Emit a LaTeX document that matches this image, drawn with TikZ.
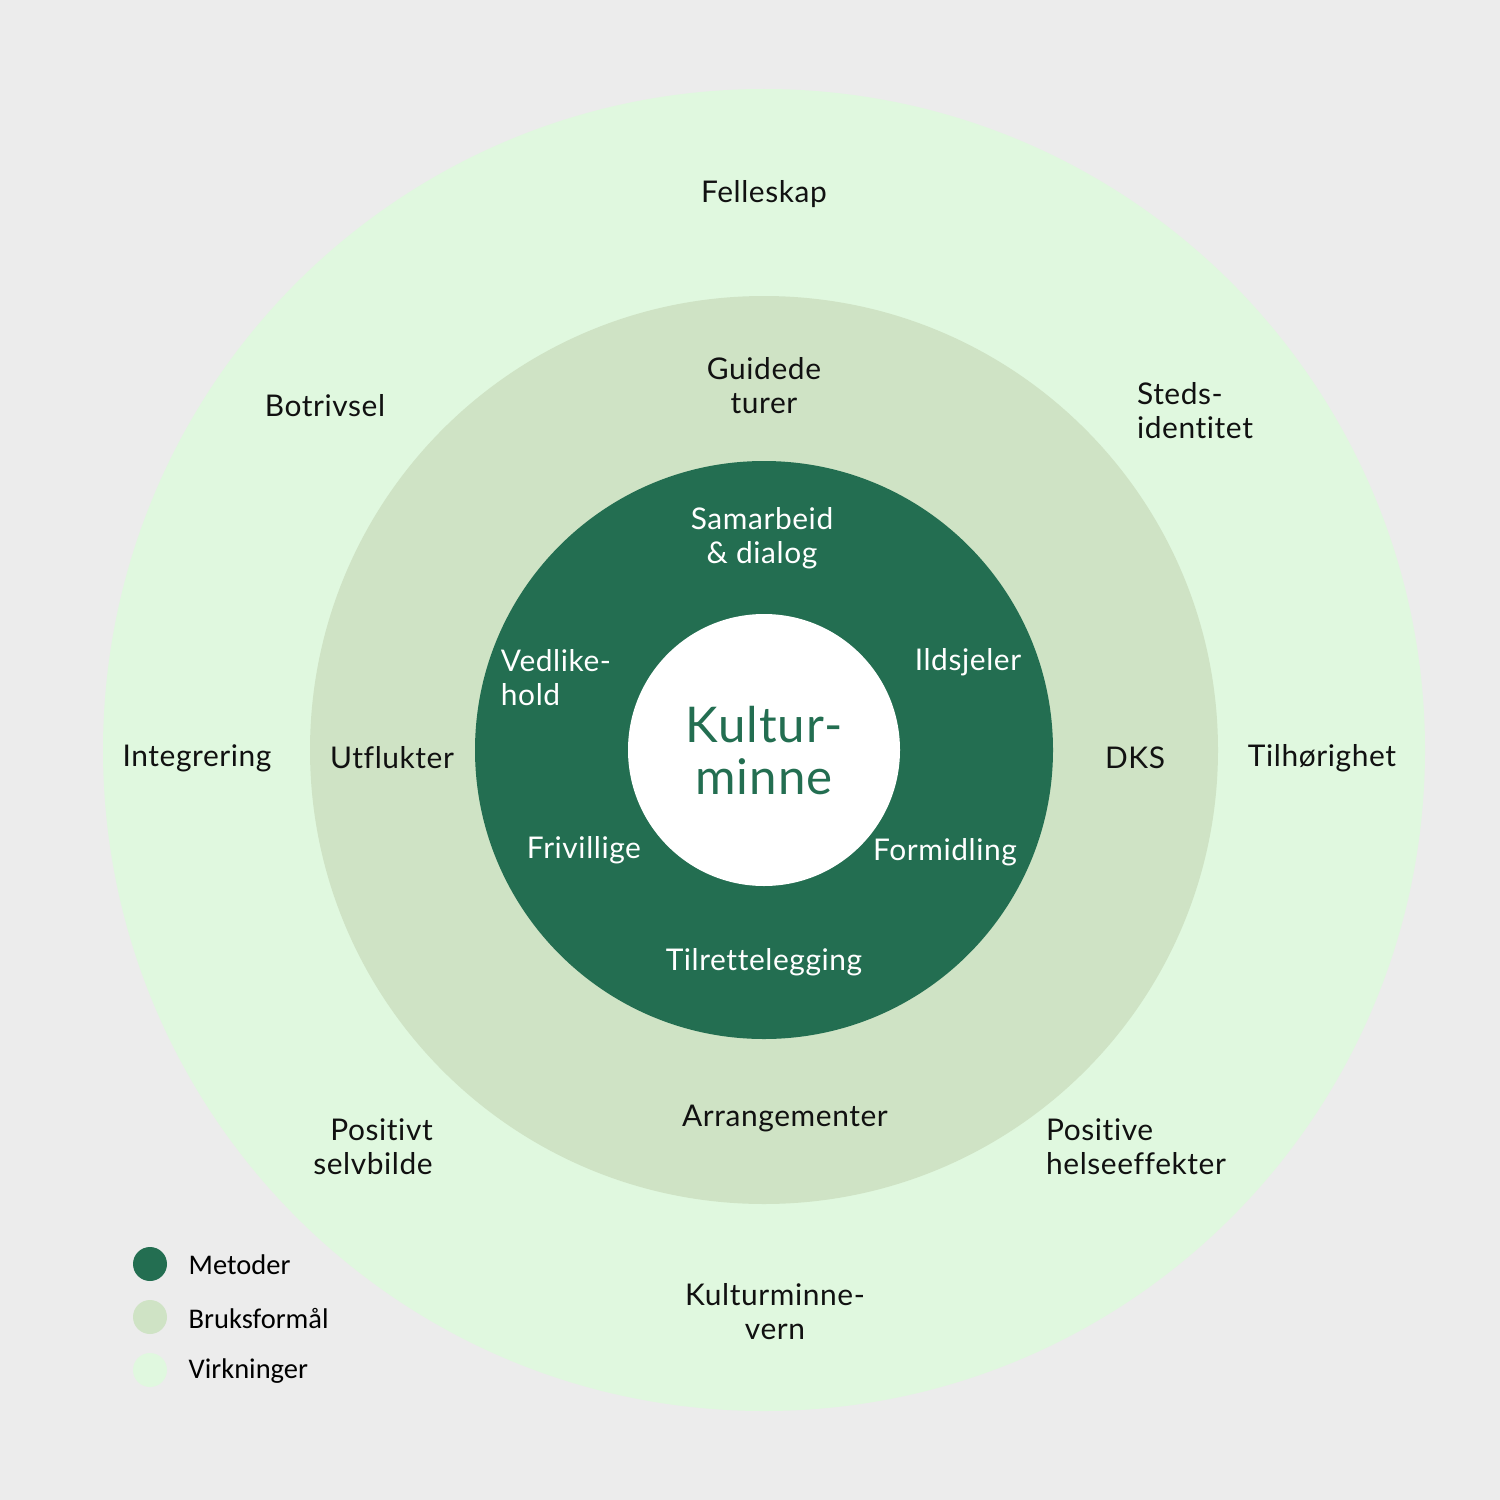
\documentclass[tikz,border=0pt]{standalone}
\usepackage{fontspec}
\setmainfont{Lato}[Ligatures=NoCommon, LetterSpace=2]
\newfontfamily\legendfont{Carlito}
\usetikzlibrary{positioning}
\definecolor{kmBack}{HTML}{ECECEC}
\definecolor{kmEffect}{HTML}{E0F8DF}
\definecolor{kmUse}{HTML}{CFE3C5}
\definecolor{kmMethod}{HTML}{236E51}
\definecolor{kmText}{HTML}{111111}

\begin{document}
\begin{tikzpicture}[x=0.01cm,y=-0.01cm,
  lbl/.style={font=\fontsize{8.5}{9.7}\selectfont, text=kmText, inner sep=0pt, align=center},
  mlbl/.style={lbl, text=white},
  key/.style={font=\legendfont\fontsize{8.1}{9.7}\selectfont, text=black, inner sep=0pt, anchor=west}]
  \fill[kmBack] (0,0) rectangle (1500,1500);

  \fill[kmEffect] (764,750) circle (661);
  \fill[kmUse] (764,750) circle (454);
  \fill[kmMethod] (764,750) circle (289);
  \fill[white] (764,750) circle (136);

  \node[lbl, text=kmMethod, font=\fontsize{14}{14.8}\selectfont] (core) at (764,751) {Kultur-\\minne};

  \node[mlbl] (samarbeid) at (762,538) {Samarbeid\\\& dialog};
  \node[mlbl, align=left] (vedlikehold) at (556,678) {Vedlike-\\hold};
  \node[mlbl] (ildsjeler) at (968,662) {Ildsjeler};
  \node[mlbl] (frivillige) at (584,850) {Frivillige};
  \node[mlbl] (formidling) at (945,852) {Formidling};
  \node[mlbl] (tilrette) at (764,962) {Tilrettelegging};

  \node[lbl] (guidede) at (764,386) {Guidede\\turer};
  \node[lbl] (utflukter) at (392,758) {Utflukter};
  \node[lbl] (dks) at (1135,758) {DKS};
  \node[lbl] (arrangement) at (785,1119) {Arrangementer};

  \node[lbl] (felleskap) at (764,194) {Felleskap};
  \node[lbl] (botrivsel) at (325,406) {Botrivsel};
  \node[lbl, align=left] (steds) at (1195,411) {Steds-\\identitet};
  \node[lbl] (integrering) at (197,758) {Integrering};
  \node[lbl] (tilhorighet) at (1322,758) {Tilhørighet};
  \node[lbl, align=right] (selvbilde) at (373,1147) {Positivt\\selvbilde};
  \node[lbl, align=left] (helse) at (1136,1147) {Positive\\helseeffekter};
  \node[lbl] (vern) at (775,1312) {Kulturminne-\\vern};

  \fill[kmMethod] (150,1264) circle (17);
  \fill[kmUse] (150,1317) circle (17);
  \fill[kmEffect] (150,1370) circle (17);
  \node[key] (metoder) at (188,1265) {Metoder};
  \node[key] (bruk) at (188,1318) {Bruksformål};
  \node[key] (virkning) at (188,1371) {Virkninger};
\end{tikzpicture}
\end{document}
